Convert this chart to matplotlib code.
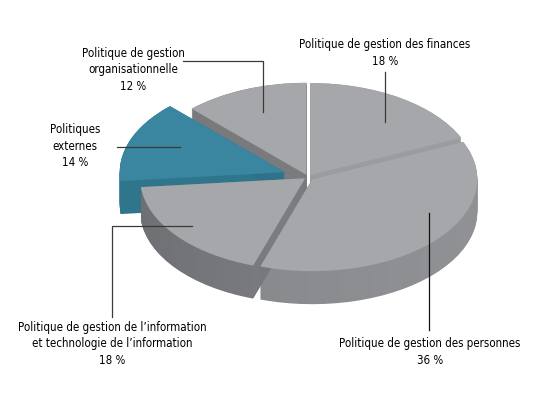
import matplotlib
matplotlib.use("Agg")
import matplotlib.pyplot as plt
import numpy as np
from matplotlib import font_manager as fm
from matplotlib.path import Path

# ---- data ----
labels = ["Politique de gestion des finances",
          "Politique de gestion des personnes",
          "Politique de gestion de l\u2019information\net technologie de l\u2019information",
          "Politiques\nexternes",
          "Politique de gestion\norganisationnelle"]
values = [18, 36, 18, 14, 12]
pct_labels = ["18 %", "36 %", "18 %", "14 %", "12 %"]

# ---- style ----
explode = [0.025, 0.035, 0.022, 0.15, 0.025]
top_colors = ["#A5A7AA", "#A5A7AA", "#A5A7AA", "#3A86A0", "#A5A7AA"]
side_colors = ["#9A9C9F", "#909296", "#8A8C90", "#2F768D", "#7C7E81"]
shade_alpha = [0.0, 0.10, 0.22, 0.0, 0.05]

W, H = 545, 394
CX, CY = 308, 177     # pixel centre of pie
RX, RY = 165, 92      # pixel radii
DEPTH = 33            # pixel depth

# pick a condensed face if available
font_kw = dict(family=['DejaVu Sans'])
for fam, st in [('Liberation Sans Narrow', 'normal'), ('DejaVu Sans', 'condensed')]:
    try:
        p = fm.findfont(fm.FontProperties(family=fam, stretch=st), fallback_to_default=False)
        if 'Narrow' in p or 'Condensed' in p:
            font_kw = dict(family=[fam, 'DejaVu Sans'], fontstretch=st)
            break
    except Exception:
        pass

fig = plt.figure(figsize=(W / 100, H / 100), dpi=100)
ax = fig.add_axes([0, 0, 1, 1])

d = DEPTH / RY
N = 40
wp = dict(linewidth=0, antialiased=True)
layer_wedges = [[] for _ in values]
for k in range(N, -1, -1):
    w, _ = ax.pie(values, explode=explode, startangle=90, counterclock=False,
                  colors=side_colors, center=(0, -d * k / N), wedgeprops=wp)
    for i, wd in enumerate(w):
        layer_wedges[i].append(wd)

xlim = (-CX / RX, (W - CX) / RX)
ylim = (-(H - CY) / RY, CY / RY)

# horizontal shading of the side walls (darker on the left)
grad = np.linspace(1, 0, 256)[None, :]
for i, ws in enumerate(layer_wedges):
    if shade_alpha[i] <= 0:
        continue
    shade = np.zeros((1, 256, 4))
    shade[..., 3] = shade_alpha[i] * grad ** 1.2
    clip = Path.make_compound_path(*[wd.get_path() for wd in ws])
    im = ax.imshow(shade, extent=(-1.2, 1.2, ylim[0], ylim[1]), aspect='auto',
                   interpolation='bilinear', zorder=1)
    im.set_clip_path(clip, ax.transData)

ax.pie(values, explode=explode, startangle=90, counterclock=False,
       colors=top_colors, center=(0, 0), wedgeprops=dict(wp, zorder=1.5))

ax.set_aspect('auto')
ax.set_xlim(*xlim)
ax.set_ylim(*ylim)
ax.axis('off')


def fp(x, y):
    return (x / W, 1 - y / H)


def line(pts, color="#3a3a3a"):
    xs = [p[0] / W for p in pts]
    ys = [1 - p[1] / H for p in pts]
    fig.add_artist(plt.Line2D(xs, ys, transform=fig.transFigure,
                              color=color, lw=0.9))


fs = 8.3
ls = 1.4
tk = dict(ha='center', va='center', fontsize=fs, linespacing=ls, **font_kw)
# finances
fig.text(*fp(385, 53), labels[0] + "\n" + pct_labels[0], **tk)
line([(385, 72), (385, 122)])
# personnes
fig.text(*fp(430, 352), labels[1] + "\n" + pct_labels[1], **tk)
line([(429, 213), (429, 330)], color="#111111")
# information
fig.text(*fp(112, 344), labels[2] + "\n" + pct_labels[2], **tk)
line([(112, 317), (112, 226), (192, 226)])
# externes
fig.text(*fp(75, 146), labels[3] + "\n" + pct_labels[3], **tk)
line([(117, 147), (180, 147)])
# organisationnelle
fig.text(*fp(133, 70), labels[4] + "\n" + pct_labels[4], **tk)
line([(183, 61), (263, 61), (263, 112)])

fig.savefig("out.png", dpi=100, facecolor="white")
